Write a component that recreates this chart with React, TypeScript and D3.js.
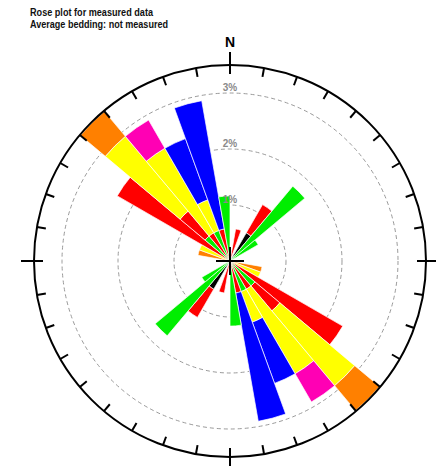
import React from "react";
import * as d3 from "d3";

// bins are 10 degrees wide, start azimuths (each bin is drawn also at +180)
const binStart = [280, 290, 300, 310, 320, 330, 340, 350, 10, 30, 40, 50];
const binWidth = 10;
const sampleSize = 172;

// measurement counts per bin for each class (stacked outward in this order)
const blackCounts = [0, 0, 0, 0, 0, 0, 0, 0, 0, 1, 0, 0];
const greenCounts = [0, 0, 0, 1, 0, 1, 0, 2, 0, 0, 3, 1];
const redCounts = [0, 0, 4, 1, 1, 0, 1, 0, 1, 1, 0, 0];
const yellowCounts = [0, 1, 0, 3, 3, 1, 0, 0, 0, 0, 0, 0];
const blueCounts = [0, 0, 0, 0, 0, 2, 4, 0, 0, 0, 0, 0];
const magentaCounts = [0, 0, 0, 0, 1, 0, 0, 0, 0, 0, 0, 0];
const orangeCounts = [1, 0, 0, 1, 0, 0, 0, 0, 0, 0, 0, 0];

const ringLabels = [1, 2, 3];
const titleLines = ["Rose plot for measured data", "Average bedding: not measured"];

const width = 436;
const height = 466;
const cx = 230;
const cy = 261;
const outerR = 196;

const classes = [
  { counts: blackCounts, color: "#000000" },
  { counts: greenCounts, color: "#00ee00" },
  { counts: redCounts, color: "#ff0000" },
  { counts: yellowCounts, color: "#ffff00" },
  { counts: blueCounts, color: "#0000ff" },
  { counts: magentaCounts, color: "#ff00b4" },
  { counts: orangeCounts, color: "#ff8000" },
];

const App = () => {
  const rScale = d3.scaleLinear().domain([0, 3.5]).range([0, outerR]);
  const arc = d3.arc();
  const rad = (deg) => (deg * Math.PI) / 180;

  const segments = [];
  binStart.forEach((az, i) => {
    let cum = 0;
    classes.forEach((c) => {
      const v = c.counts[i];
      if (!v) return;
      const p0 = (cum / sampleSize) * 100;
      const p1 = ((cum + v) / sampleSize) * 100;
      cum += v;
      [az, az + 180].forEach((a) => {
        segments.push({
          d: arc({
            innerRadius: rScale(p0),
            outerRadius: rScale(p1),
            startAngle: rad(a),
            endAngle: rad(a + binWidth),
          }),
          color: c.color,
        });
      });
    });
  });

  const ticks = d3.range(0, 360, 10);

  return (
    <svg
      width={width}
      height={height}
      style={{ position: "absolute", left: 0, top: 0, background: "#fff" }}
      fontFamily="'Liberation Sans', Arial, sans-serif"
    >
      <rect width={width} height={height} fill="#fff" />
      {titleLines.map((t, i) => (
        <text
          key={t}
          x={30}
          y={16 + i * 12}
          fontSize={10.5}
          fontWeight="bold"
          fill="#111"
          textLength={i === 0 ? 123 : 138}
          lengthAdjust="spacingAndGlyphs"
        >
          {t}
        </text>
      ))}
      <g transform={`translate(${cx},${cy})`}>
        {ringLabels.map((p) => (
          <circle
            key={p}
            r={rScale(p)}
            fill="none"
            stroke="#9a9a9a"
            strokeWidth={1}
            strokeDasharray="4,3"
          />
        ))}
        {segments.map((s, i) => (
          <path key={i} d={s.d} fill={s.color} stroke="#fff" strokeWidth={0.7} />
        ))}
        {ringLabels.map((p) => (
          <text
            key={p}
            x={0}
            y={-rScale(p) - 2}
            textAnchor="middle"
            fontSize={10}
            fontWeight="bold"
            fill="#8a8a8a"
          >
            {p}%
          </text>
        ))}
        <circle r={outerR} fill="none" stroke="#000" strokeWidth={2} />
        {ticks.map((t) => {
          const major = t % 90 === 0;
          const r0 = major ? outerR - 9 : outerR - 9;
          const r1 = major ? outerR + 13 : outerR;
          const a = rad(t);
          return (
            <line
              key={t}
              x1={r0 * Math.sin(a)}
              y1={-r0 * Math.cos(a)}
              x2={r1 * Math.sin(a)}
              y2={-r1 * Math.cos(a)}
              stroke="#000"
              strokeWidth={2}
            />
          );
        })}
        <text x={0} y={-outerR - 18} textAnchor="middle" fontSize={14} fontWeight="bold" fill="#000">
          N
        </text>
        <line x1={-14} y1={0} x2={14} y2={0} stroke="#000" strokeWidth={2} />
        <line x1={0} y1={-14} x2={0} y2={14} stroke="#000" strokeWidth={2} />
      </g>
    </svg>
  );
};

export default App;
